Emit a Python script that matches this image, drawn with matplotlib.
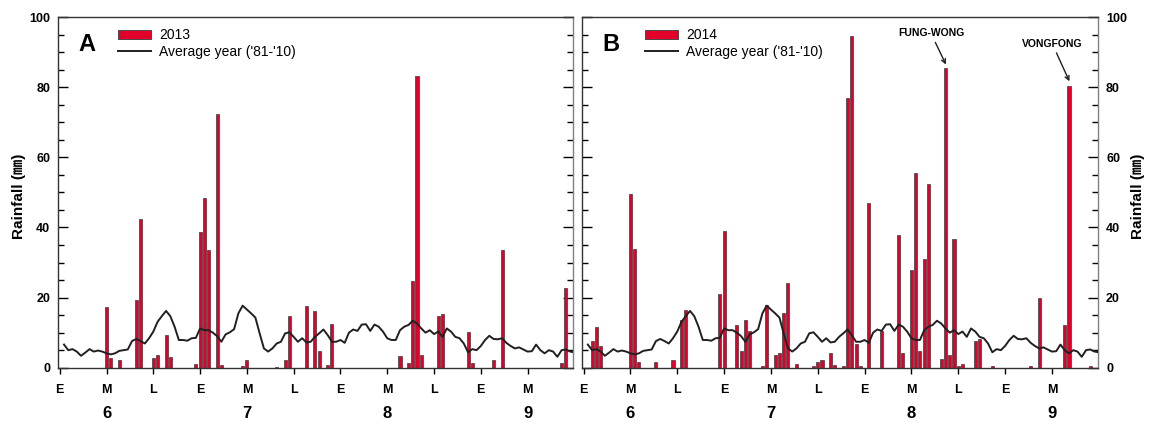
import matplotlib
matplotlib.use('Agg')
import matplotlib.pyplot as plt
from matplotlib.patches import Patch
from matplotlib.lines import Line2D
from matplotlib.ticker import MultipleLocator

plt.rcParams['font.family'] = ['Liberation Sans', 'Noto Sans CJK KR']

# --- data (day 1 = June 1) ---
avg_days = list(range(1, 122))
avg_mm = [6.6, 5.0, 5.3, 4.6, 3.4, 4.3, 5.3, 4.6, 4.9, 4.6,
          4.1, 3.8, 4.1, 4.8, 5.0, 5.2, 7.6, 8.2, 7.6, 6.9,
          8.4, 10.3, 13.1, 14.7, 16.2, 14.7, 11.7, 7.9, 7.9, 7.7,
          8.4, 8.5, 11.2, 10.7, 10.7, 10.0, 9.0, 7.4, 9.5, 10.1,
          11.0, 15.5, 17.7, 16.6, 15.5, 14.3, 9.8, 5.5, 4.6, 5.5,
          6.9, 7.4, 9.8, 10.1, 8.8, 7.4, 8.4, 7.2, 7.4, 8.8,
          9.8, 10.9, 9.3, 7.4, 7.4, 7.9, 7.1, 10.0, 10.9, 10.5,
          12.3, 12.4, 10.5, 12.3, 11.7, 10.3, 8.4, 7.9, 7.9, 10.7,
          11.7, 12.2, 13.4, 12.6, 11.2, 10.0, 10.7, 9.6, 10.3, 8.8,
          11.2, 10.3, 8.8, 8.4, 6.9, 4.4, 5.3, 5.0, 6.2, 7.9,
          9.1, 8.2, 8.1, 8.4, 7.1, 6.2, 5.5, 5.8, 5.2, 4.6,
          4.7, 6.6, 5.0, 4.1, 5.0, 4.6, 3.1, 5.0, 5.2, 4.6,
          4.4]

rain13_days = [11, 12, 14, 18, 19, 22, 23, 25, 26, 32, 33, 34, 35, 37, 38,
               43, 44, 51, 53, 54, 58, 60, 61, 63, 64, 80, 82, 83, 84, 85,
               89, 90, 96, 97, 102, 104, 118, 119]
rain13_mm = [17.2, 2.7, 2.1, 19.3, 42.5, 2.7, 3.6, 9.2, 3.1, 1.1, 38.6, 48.5, 33.7, 72.5, 0.7,
             0.5, 2.1, 0.3, 2.1, 14.7, 17.7, 16.2, 4.7, 0.7, 12.6, 3.2, 1.2, 24.7, 83.1, 3.6,
             14.7, 15.2, 10.1, 1.2, 2.1, 33.6, 1.2, 22.6]

rain14_days = [2, 3, 4, 11, 12, 13, 17, 21, 23, 24, 32, 33, 36, 37, 38, 39,
               42, 43, 45, 46, 47, 48, 50, 54, 55, 56, 58, 59, 61, 62, 63, 64,
               65, 67, 70, 74, 75, 77, 78, 79, 80, 81, 84, 85, 86, 87, 88, 89,
               92, 93, 96, 105, 107, 113, 114, 119]
rain14_mm = [7.6, 11.6, 6.1, 49.6, 34.0, 1.6, 1.6, 2.1, 13.5, 16.6, 21.0, 39.1, 12.1, 4.7, 13.6, 10.6,
             0.5, 18.0, 3.6, 4.2, 15.6, 24.2, 1.0, 0.5, 1.6, 2.1, 4.2, 0.7, 0.6, 77.0, 94.5, 6.9,
             0.6, 47.1, 10.5, 38.0, 4.1, 28.0, 55.6, 4.9, 31.1, 52.5, 2.6, 85.6, 3.5, 36.6, 0.6, 1.0,
             7.6, 8.1, 0.6, 0.4, 20.0, 12.2, 80.5, 0.6]

tick_pos = list(range(0, 111, 11))
tick_labels = ['E', 'M', 'L', 'E', 'M', 'L', 'E', 'M', 'L', 'E', 'M']
month_pos = [11, 44, 77, 110]
month_labels = ['6', '7', '8', '9']

BAR_RED = '#e0002a'
SPINE_DARK = '#333333'
SPINE_GRAY = '#808080'


def draw_panel(ax, days, mm, year, letter, legend_x, label_side):
    ax.bar(days, mm, width=0.72, color=BAR_RED, edgecolor='#3a3a3a', linewidth=0.5, zorder=2)
    ax.plot(avg_days, avg_mm, color='#231f20', linewidth=1.4, zorder=3)

    ax.set_xlim(-0.3, 120.75)
    ax.set_ylim(0, 100)

    ax.set_xticks(tick_pos)
    ax.set_xticklabels(tick_labels, fontsize=9, fontweight='bold')
    ax.tick_params(axis='x', direction='out', length=4, width=1, pad=8, top=False)

    ax.yaxis.set_major_locator(MultipleLocator(20))
    ax.yaxis.set_minor_locator(MultipleLocator(5))
    ax.tick_params(axis='y', which='both', direction='in', left=True, right=True, width=1)
    ax.tick_params(axis='y', which='major', length=7)
    ax.tick_params(axis='y', which='minor', length=4)
    if label_side == 'left':
        ax.tick_params(axis='y', labelleft=True, labelright=False, pad=6)
        ax.set_ylabel('Rainfall (㎜)', fontsize=11, fontweight='bold')
        ax.yaxis.set_label_coords(-0.063, 0.49)
    else:
        ax.tick_params(axis='y', labelleft=False, labelright=True, pad=6)
        ax.yaxis.set_label_position('right')
        ax.set_ylabel('Rainfall (㎜)', fontsize=11, fontweight='bold')
        ax.yaxis.set_label_coords(1.0646, 0.49)
    for lab in ax.get_yticklabels():
        lab.set_fontweight('bold')
        lab.set_fontsize(9)

    for s in ['left', 'top', 'bottom']:
        ax.spines[s].set_color(SPINE_DARK)
        ax.spines[s].set_linewidth(1)
    ax.spines['right'].set_color(SPINE_GRAY)
    ax.spines['right'].set_linewidth(1)

    # month labels under the M ticks
    for p, m in zip(month_pos, month_labels):
        ax.text(p, -0.132, m, transform=ax.get_xaxis_transform(), ha='center', va='center',
                fontsize=12, fontweight='bold')

    ax.text(0.038, 0.9225, letter, transform=ax.transAxes, ha='left', va='center',
            fontsize=17, fontweight='bold')

    handles = [Patch(facecolor=BAR_RED, edgecolor='#3a3a3a', linewidth=0.6),
               Line2D([0], [0], color='#231f20', linewidth=1.4)]
    ax.legend(handles, [year, "Average year ('81-'10)"], loc='upper left',
              bbox_to_anchor=(legend_x, 0.968), frameon=False, fontsize=10,
              borderpad=0, borderaxespad=0, handlelength=2.4, handleheight=0.7,
              handletextpad=0.55, labelspacing=0.2)


fig = plt.figure(figsize=(11.51, 4.29), dpi=100)
axA = fig.add_axes([0.0508, 0.1429, 0.4473, 0.8170])
axB = fig.add_axes([0.5059, 0.1429, 0.4478, 0.8170])

draw_panel(axA, rain13_days, rain13_mm, '2013', 'A', 0.1156, 'left')
draw_panel(axB, rain14_days, rain14_mm, '2014', 'B', 0.1217, 'right')

arrow = dict(arrowstyle='->', color='#231f20', lw=1, shrinkA=1, shrinkB=0)
axB.annotate('FUNG-WONG', xy=(85.1, 86.5), xytext=(81.6, 95.4), ha='center', va='center',
             fontsize=7.5, fontweight='bold', arrowprops=arrow)
axB.annotate('VONGFONG', xy=(114.1, 81.7), xytext=(110.1, 92.4), ha='center', va='center',
             fontsize=7.5, fontweight='bold', arrowprops=arrow)

fig.savefig('out.png', dpi=100)
